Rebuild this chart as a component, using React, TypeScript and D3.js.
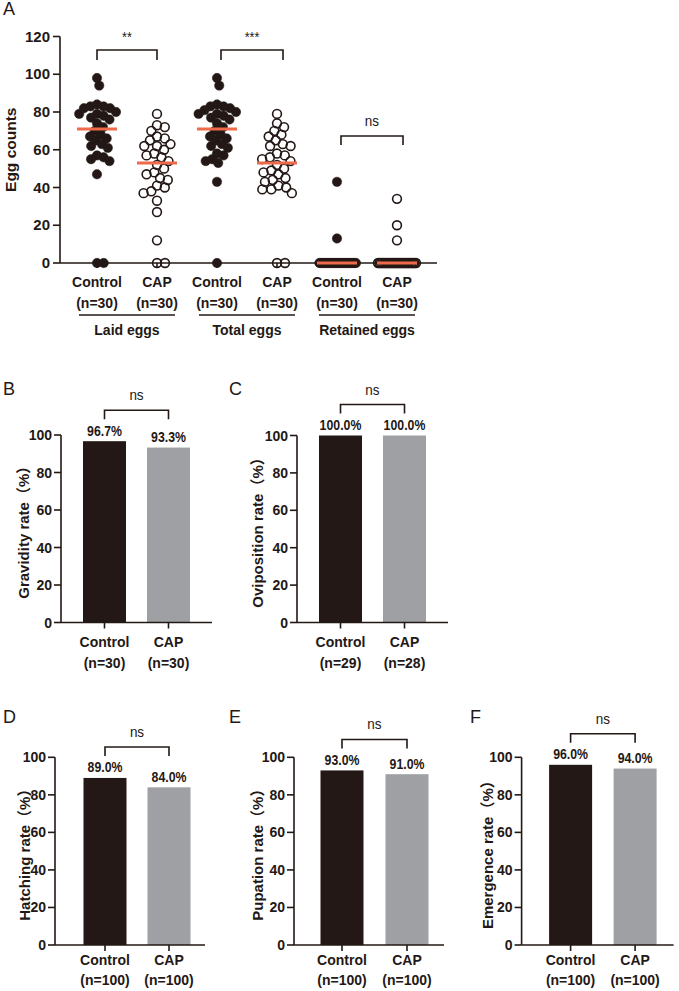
import React from 'react';
import * as d3 from 'd3';

const W = 679;
const H = 991;
const DARK = '#231815';
const GRAY = '#9fa0a3';
const ORANGE = '#ee6a4a';
const FONT = '"Liberation Sans", Arial, Helvetica, sans-serif';
const FONT_CJK = '"Liberation Sans", Arial, "Noto Sans CJK SC", sans-serif';

// ---------- Panel A data ----------
const scatterCategories = ['Control', 'CAP', 'Control', 'CAP', 'Control', 'CAP'];
const scatterN = ['(n=30)', '(n=30)', '(n=30)', '(n=30)', '(n=30)', '(n=30)'];
const scatterGroups = ['Laid eggs', 'Total eggs', 'Retained eggs'];
const scatterSignif = ['**', '***', 'ns'];
const eggTicks = [0, 20, 40, 60, 80, 100, 120];

const laidControl = [98, 94, 84, 83, 83, 82, 82, 80, 79, 79, 78, 77, 76, 74, 72, 70, 68, 67, 66, 65, 63, 62, 61, 57, 56, 55, 54, 47, 0, 0];
const laidCAP = [79, 73, 72, 70, 67, 66, 65, 63, 62, 62, 60, 58, 57, 56, 54, 52, 50, 48, 47, 45, 44, 41, 40, 38, 37, 33, 27, 12, 0, 0];
const totalControl = [98, 94, 84, 83, 83, 82, 81, 80, 79, 79, 78, 77, 76, 74, 72, 70, 68, 67, 66, 65, 63, 62, 61, 58, 57, 55, 54, 53, 43, 0];
const totalCAP = [79, 74, 72, 70, 68, 67, 65, 63, 62, 62, 58, 57, 56, 55, 54, 52, 50, 49, 48, 47, 45, 44, 43, 41, 40, 39, 39, 37, 0, 0];
const retainedControl = [43, 13, 0, 0, 0, 0, 0, 0, 0, 0, 0, 0, 0, 0, 0, 0, 0, 0, 0, 0, 0, 0, 0, 0, 0, 0, 0, 0, 0, 0];
const retainedCAP = [34, 20, 12, 0, 0, 0, 0, 0, 0, 0, 0, 0, 0, 0, 0, 0, 0, 0, 0, 0, 0, 0, 0, 0, 0, 0, 0, 0, 0, 0];
const scatterSeries = [laidControl, laidCAP, totalControl, totalCAP, retainedControl, retainedCAP];

// ---------- Bar panels data ----------
const barCategories = ['Control', 'CAP'];
const rateTicks = [0, 20, 40, 60, 80, 100];
const gravidityRate = [96.7, 93.3];
const gravidityN = ['(n=30)', '(n=30)'];
const ovipositionRate = [100.0, 100.0];
const ovipositionN = ['(n=29)', '(n=28)'];
const hatchingRate = [89.0, 84.0];
const hatchingN = ['(n=100)', '(n=100)'];
const pupationRate = [93.0, 91.0];
const pupationN = ['(n=100)', '(n=100)'];
const emergenceRate = [96.0, 94.0];
const emergenceN = ['(n=100)', '(n=100)'];

function swarm(values: number[], y: (v: number) => number, d: number, maxHalf: number): number[] {
  const idx = values.map((_, i) => i).sort((a, b) => values[b] - values[a]);
  const placed: { x: number; y: number }[] = [];
  const off: number[] = new Array(values.length).fill(0);
  for (const i of idx) {
    const yi = y(values[i]);
    const cands = [0];
    for (const p of placed) {
      const dy = Math.abs(p.y - yi);
      if (dy < d) {
        const dx = Math.sqrt(d * d - dy * dy);
        cands.push(p.x + dx + 0.01, p.x - dx - 0.01);
      }
    }
    cands.sort((a, b) => Math.abs(a) - Math.abs(b));
    let chosen = 0;
    for (const c of cands) {
      if (placed.every((p) => (p.x - c) ** 2 + (p.y - yi) ** 2 >= d * d - 0.05)) {
        chosen = c;
        break;
      }
    }
    placed.push({ x: chosen, y: yi });
    off[i] = chosen;
  }
  const m = d3.max(off, (o) => Math.abs(o)) || 0;
  const k = m > maxHalf ? maxHalf / m : 1;
  return off.map((o) => o * k);
}

function Bracket({ x1, x2, yTop, drop, label, fontSize = 15, labelGap = 10 }: any) {
  return (
    <g>
      <path d={`M${x1},${yTop + drop}V${yTop}H${x2}V${yTop + drop}`} fill="none" stroke={DARK} strokeWidth={1.6} />
      <text
        transform={`translate(${(x1 + x2) / 2},${yTop - labelGap}) scale(0.9,1)`}
        textAnchor="middle"
        fontFamily={FONT}
        fontSize={fontSize}
        fill={DARK}
      >
        {label}
      </text>
    </g>
  );
}

function PanelA() {
  const x0 = 60;
  const xEnd = 437;
  const y = d3.scaleLinear().domain([0, 120]).range([263, 36.5]);
  const x = d3.scalePoint<number>().domain([0, 1, 2, 3, 4, 5]).range([97, 397]);
  const r = 4.7;
  return (
    <g>
      <text x={3} y={15} fontFamily={FONT} fontSize={18} fill={DARK}>A</text>
      {/* y axis */}
      <line x1={x0} x2={x0} y1={y(0)} y2={y(120)} stroke={DARK} strokeWidth={1.6} />
      {eggTicks.map((t) => (
        <g key={t}>
          <line x1={x0 - 7} x2={x0} y1={y(t)} y2={y(t)} stroke={DARK} strokeWidth={1.6} />
          <text x={x0 - 10} y={y(t) + 5} textAnchor="end" fontFamily={FONT} fontWeight="bold" fontSize={15} fill={DARK}>
            {t}
          </text>
        </g>
      ))}
      <text
        transform={`translate(10,${(y(0) + y(120)) / 2}) rotate(-90)`}
        textAnchor="middle"
        dominantBaseline="central"
        fontFamily={FONT}
        fontWeight="bold"
        fontSize={15.5}
        fill={DARK}
      >
        Egg counts
      </text>
      {/* x axis */}
      <line x1={x0} x2={xEnd} y1={y(0)} y2={y(0)} stroke={DARK} strokeWidth={1.6} />
      {scatterCategories.map((c, i) => (
        <g key={i}>
          <line x1={x(i)!} x2={x(i)!} y1={y(0)} y2={y(0) + 5} stroke={DARK} strokeWidth={1.6} />
          <text x={x(i)!} y={287} textAnchor="middle" fontFamily={FONT} fontWeight="bold" fontSize={14} fill={DARK}>
            {c}
          </text>
          <text x={x(i)!} y={308} textAnchor="middle" fontFamily={FONT} fontWeight="bold" fontSize={14} fill={DARK}>
            {scatterN[i]}
          </text>
        </g>
      ))}
      {scatterGroups.map((g, gi) => {
        const cx = (x(gi * 2)! + x(gi * 2 + 1)!) / 2;
        return (
          <g key={g}>
            <line x1={cx - 48} x2={cx + 48} y1={315} y2={315} stroke={DARK} strokeWidth={1.6} />
            <text x={cx} y={335} textAnchor="middle" fontFamily={FONT} fontWeight="bold" fontSize={14} fill={DARK}>
              {g}
            </text>
          </g>
        );
      })}
      {/* points */}
      {scatterSeries.map((vals, si) => {
        const offs = swarm(vals, (v) => y(v), 8, 19);
        const filled = si % 2 === 0;
        const med = d3.median(vals) as number;
        return (
          <g key={si}>
            {vals.map((v, i) => (
              <circle
                key={i}
                cx={x(si)! + offs[i]}
                cy={y(v)}
                r={filled ? r : r - 0.3}
                fill={filled ? DARK : 'none'}
                stroke={DARK}
                strokeWidth={filled ? 0.5 : 1.6}
              />
            ))}
            <line x1={x(si)! - 20} x2={x(si)! + 20} y1={y(med)} y2={y(med)} stroke={ORANGE} strokeWidth={3} />
          </g>
        );
      })}
      {/* brackets */}
      <Bracket x1={x(0)!} x2={x(1)!} yTop={50} drop={10} label={scatterSignif[0]} fontSize={14} labelGap={8} />
      <Bracket x1={x(2)! + 4} x2={x(3)! + 6} yTop={50} drop={10} label={scatterSignif[1]} fontSize={14} labelGap={8} />
      <Bracket x1={x(4)! + 4} x2={x(5)! + 6} yTop={136} drop={9} label={scatterSignif[2]} fontSize={15} labelGap={10} />
    </g>
  );
}

function BarPanel({ letter, letterX, letterY, x0, len, c1, c2, y0, y100, values, ns, ylabel, labelX, catY, nY }: any) {
  const y = d3.scaleLinear().domain([0, 100]).range([y0, y100]);
  const x = d3.scalePoint<string>().domain(barCategories).range([x0 + c1, x0 + c2]);
  const bw = 43;
  const top = y(d3.max(values as number[]) as number);
  const bTop = top - 31;
  return (
    <g>
      <text x={letterX} y={letterY} fontFamily={FONT} fontSize={18} fill={DARK}>{letter}</text>
      {barCategories.map((c, i) => (
        <rect key={c} x={x(c)! - bw / 2} y={y(values[i])} width={bw} height={y(0) - y(values[i])} fill={i === 0 ? DARK : GRAY} />
      ))}
      <line x1={x0} x2={x0} y1={y(0)} y2={y(100)} stroke={DARK} strokeWidth={1.6} />
      {rateTicks.map((t) => (
        <g key={t}>
          <line x1={x0 - 7} x2={x0} y1={y(t)} y2={y(t)} stroke={DARK} strokeWidth={1.6} />
          <text x={x0 - 9} y={y(t) + 5} textAnchor="end" fontFamily={FONT} fontWeight="bold" fontSize={14} fill={DARK}>
            {t}
          </text>
        </g>
      ))}
      <line x1={x0} x2={x0 + len} y1={y(0)} y2={y(0)} stroke={DARK} strokeWidth={1.6} />
      {barCategories.map((c, i) => (
        <g key={c}>
          <line x1={x(c)!} x2={x(c)!} y1={y(0)} y2={y(0) + 6} stroke={DARK} strokeWidth={1.6} />
          <text x={x(c)!} y={catY} textAnchor="middle" fontFamily={FONT} fontWeight="bold" fontSize={14} fill={DARK}>
            {c}
          </text>
          <text x={x(c)!} y={nY} textAnchor="middle" fontFamily={FONT} fontWeight="bold" fontSize={14} fill={DARK}>
            {ns[i]}
          </text>
          <text
            transform={`translate(${x(c)!},${y(values[i]) - 5.5}) scale(0.88,1)`}
            textAnchor="middle"
            fontFamily={FONT}
            fontWeight="bold"
            fontSize={14}
            fill={DARK}
          >
            {(values[i] as number).toFixed(1) + '%'}
          </text>
        </g>
      ))}
      <text
        transform={`translate(${labelX},${(y(0) + y(100)) / 2}) rotate(-90)`}
        textAnchor="middle"
        dominantBaseline="central"
        fontFamily={FONT_CJK}
        fontWeight="bold"
        fontSize={15}
        fill={DARK}
      >
        {ylabel}
      </text>
      <Bracket x1={x('Control')!} x2={x('CAP')!} yTop={bTop} drop={9} label="ns" fontSize={15} labelGap={10} />
    </g>
  );
}

export default function App() {
  return (
    <svg width={W} height={H} style={{ display: 'block', position: 'absolute', left: 0, top: 0, background: '#fff' }}>
      <rect width={W} height={H} fill="#fff" />
      <PanelA />
      <BarPanel letter="B" letterX={3} letterY={395} x0={61} len={151} c1={43.5} c2={107.5} y0={622.5} y100={435}
        values={gravidityRate} ns={gravidityN} ylabel="Gravidity rate（%）" labelX={23.5} catY={647} nY={668} />
      <BarPanel letter="C" letterX={229} letterY={395} x0={297} len={151} c1={43.5} c2={107.5} y0={622.5} y100={435.5}
        values={ovipositionRate} ns={ovipositionN} ylabel="Oviposition rate（%）" labelX={257} catY={647} nY={668} />
      <BarPanel letter="D" letterX={3} letterY={723} x0={55} len={150} c1={50} c2={114} y0={945} y100={757.3}
        values={hatchingRate} ns={hatchingN} ylabel="Hatching rate（%）" labelX={24} catY={965} nY={985} />
      <BarPanel letter="E" letterX={229} letterY={723} x0={294} len={150} c1={48} c2={113} y0={945} y100={757.3}
        values={pupationRate} ns={pupationN} ylabel="Pupation rate（%）" labelX={257.5} catY={965} nY={985} />
      <BarPanel letter="F" letterX={470} letterY={723} x0={521.6} len={152} c1={49} c2={113.5} y0={945} y100={757.3}
        values={emergenceRate} ns={emergenceN} ylabel="Emergence rate（%）" labelX={487} catY={965} nY={985} />
    </svg>
  );
}
